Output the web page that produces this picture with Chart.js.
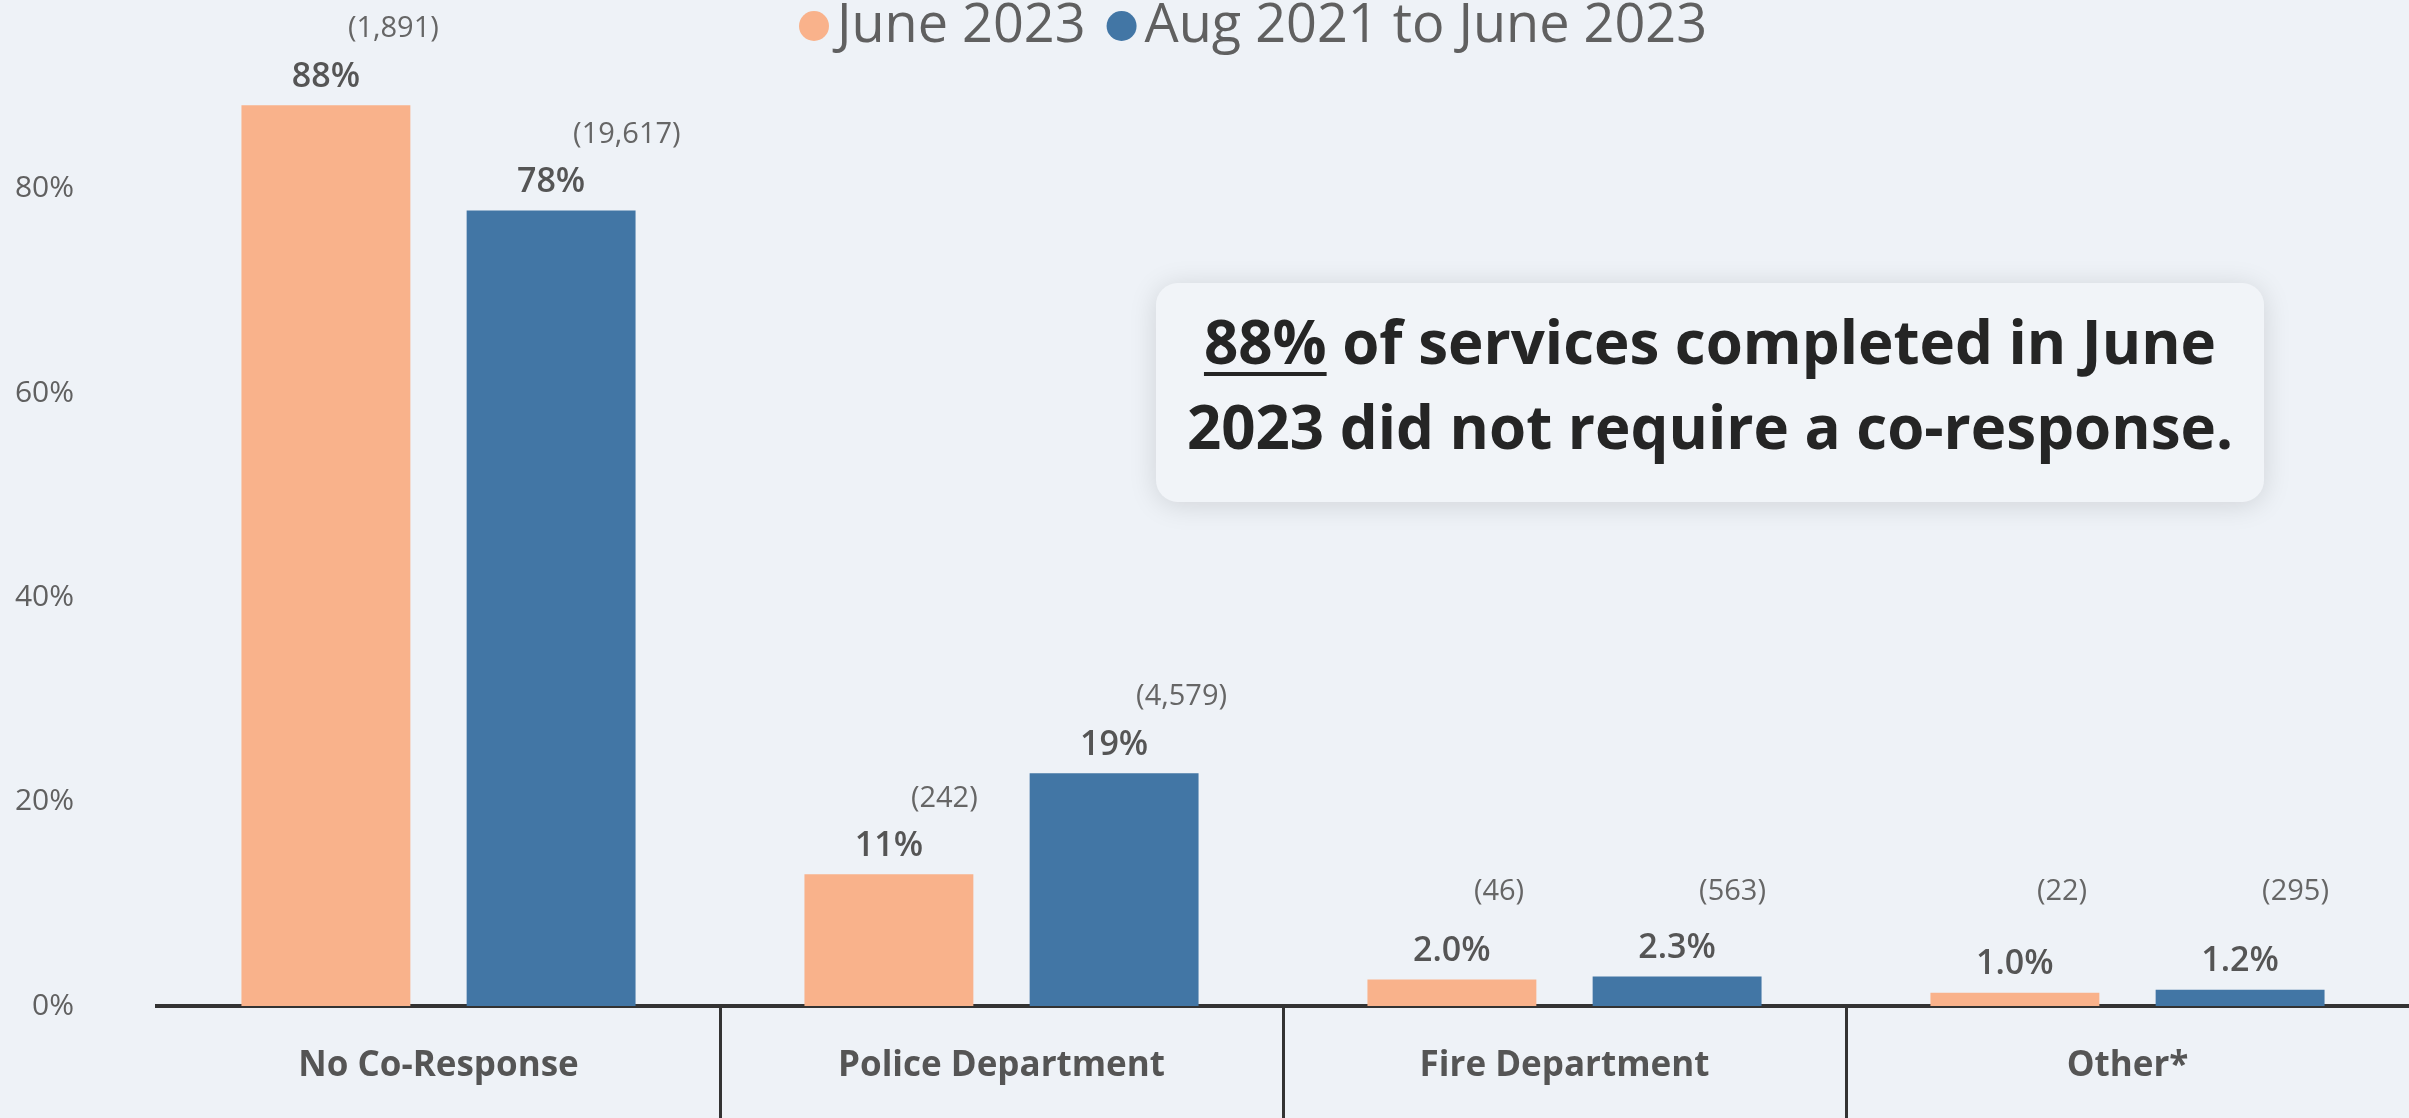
<!DOCTYPE html>
<html><head><meta charset="utf-8">
<script src="https://cdn.jsdelivr.net/npm/chart.js@4/dist/chart.umd.min.js"></script>
<style>
html,body{margin:0;padding:0;background:#EEF2F7;overflow:hidden}
#wrap{position:relative;width:2409px;height:1118px}
canvas{display:block}
</style></head><body>
<div id="wrap"><canvas id="c" width="2409" height="1118"></canvas></div>
<script>
const categories = ['No Co-Response','Police Department','Fire Department','Other*'];
const seriesNames = ['June 2023','Aug 2021 to June 2023'];
const june2023Bars = [88.2, 12.9, 2.6, 1.3];
const cumulativeBars = [77.9, 22.8, 2.9, 1.6];
const june2023Labels = ['88%','11%','2.0%','1.0%'];
const cumulativeLabels = ['78%','19%','2.3%','1.2%'];
const june2023Counts = [1891, 242, 46, 22];
const cumulativeCounts = [19617, 4579, 563, 295];
const yTicks = [0, 20, 40, 60, 80];
const calloutLead = '88%';
const calloutRest = ' of services completed in June';
const calloutLine2 = '2023 did not require a co-response.';

const FONT = '"Open Sans", "Noto Sans", sans-serif';
const COLORS = ['#F9B28B', '#4276A5'];

const overlay = {
  id: 'overlay',
  afterDraw(chart) {
    const ctx = chart.ctx, xs = chart.scales.x, area = chart.chartArea;
    ctx.save();
    // category separators
    ctx.strokeStyle = '#333'; ctx.lineWidth = 3;
    for (let i = 1; i < categories.length; i++) {
      const x = Math.round((xs.getPixelForTick(i - 1) + xs.getPixelForTick(i)) / 2) + 0.5;
      ctx.beginPath(); ctx.moveTo(x, area.bottom); ctx.lineTo(x, chart.height); ctx.stroke();
    }
    // data labels
    const labelSets = [june2023Labels, cumulativeLabels];
    const countSets = [june2023Counts, cumulativeCounts];
    chart.data.datasets.forEach((ds, di) => {
      chart.getDatasetMeta(di).data.forEach((bar, i) => {
        const py = bar.y - 28;
        ctx.font = '600 34px ' + FONT; ctx.fillStyle = '#555';
        ctx.textAlign = 'center'; ctx.textBaseline = 'middle';
        ctx.fillText(labelSets[di][i], bar.x, py);
        const cy = Math.min(py - 48, 892);
        ctx.font = '29px ' + FONT; ctx.fillStyle = '#666'; ctx.textAlign = 'left';
        ctx.fillText('(' + countSets[di][i].toLocaleString('en-US') + ')', bar.x + 22, cy);
      });
    });
    // legend
    ctx.font = '500 54px ' + FONT; ctx.textBaseline = 'middle'; ctx.textAlign = 'left';
    let lx = 799;
    seriesNames.forEach((name, k) => {
      ctx.fillStyle = COLORS[k];
      ctx.beginPath(); ctx.arc(lx + 15, 26, 15, 0, Math.PI * 2); ctx.fill();
      ctx.fillStyle = '#606060';
      ctx.fillText(name, lx + 38, 27);
      lx += 38 + ctx.measureText(name).width + 21;
    });
    // callout box
    ctx.save();
    ctx.shadowColor = 'rgba(0,0,0,0.13)'; ctx.shadowBlur = 28; ctx.shadowOffsetY = 3;
    ctx.fillStyle = '#F1F4F8';
    ctx.beginPath(); ctx.roundRect(1156, 283, 1108, 219, 22); ctx.fill();
    ctx.restore();
    ctx.fillStyle = '#252525'; ctx.font = 'bold 60px ' + FONT; ctx.textBaseline = 'alphabetic';
    const cx = 1710;
    const wLead = ctx.measureText(calloutLead).width, wRest = ctx.measureText(calloutRest).width;
    const sx = cx - (wLead + wRest) / 2;
    ctx.textAlign = 'left';
    ctx.fillText(calloutLead, sx, 364);
    ctx.fillText(calloutRest, sx + wLead, 364);
    ctx.fillRect(sx, 372, wLead, 4);
    ctx.textAlign = 'center';
    ctx.fillText(calloutLine2, cx, 449);
    ctx.restore();
  }
};

new Chart(document.getElementById('c'), {
  type: 'bar',
  data: {
    labels: categories,
    datasets: [
      { label: seriesNames[0], data: june2023Bars, backgroundColor: COLORS[0] },
      { label: seriesNames[1], data: cumulativeBars, backgroundColor: COLORS[1] }
    ]
  },
  options: {
    responsive: false, devicePixelRatio: 1, animation: false,
    layout: { padding: 0 },
    plugins: { legend: { display: false }, tooltip: { enabled: false } },
    datasets: { bar: { categoryPercentage: 0.8, barPercentage: 0.75 } },
    scales: {
      x: {
        grid: { display: false, drawTicks: false },
        border: { display: true, color: '#333', width: 4 },
        ticks: { font: { family: FONT, size: 35, weight: 'bold' }, color: '#555', padding: 39, maxRotation: 0 },
        afterFit(s) { s.height = 112; s.paddingLeft = 0; s.paddingRight = 0; }
      },
      y: {
        min: 0, max: 98.5,
        grid: { display: false, drawTicks: false },
        border: { display: false },
        ticks: { font: { family: FONT, size: 30, weight: '500' }, color: '#606060', padding: 83, callback: v => v + '%' },
        afterBuildTicks(s) { s.ticks = yTicks.map(v => ({ value: v })); },
        afterFit(s) { s.width = 157; s.paddingTop = 0; s.paddingBottom = 0; }
      }
    }
  },
  plugins: [overlay]
});
</script>
</body></html>
